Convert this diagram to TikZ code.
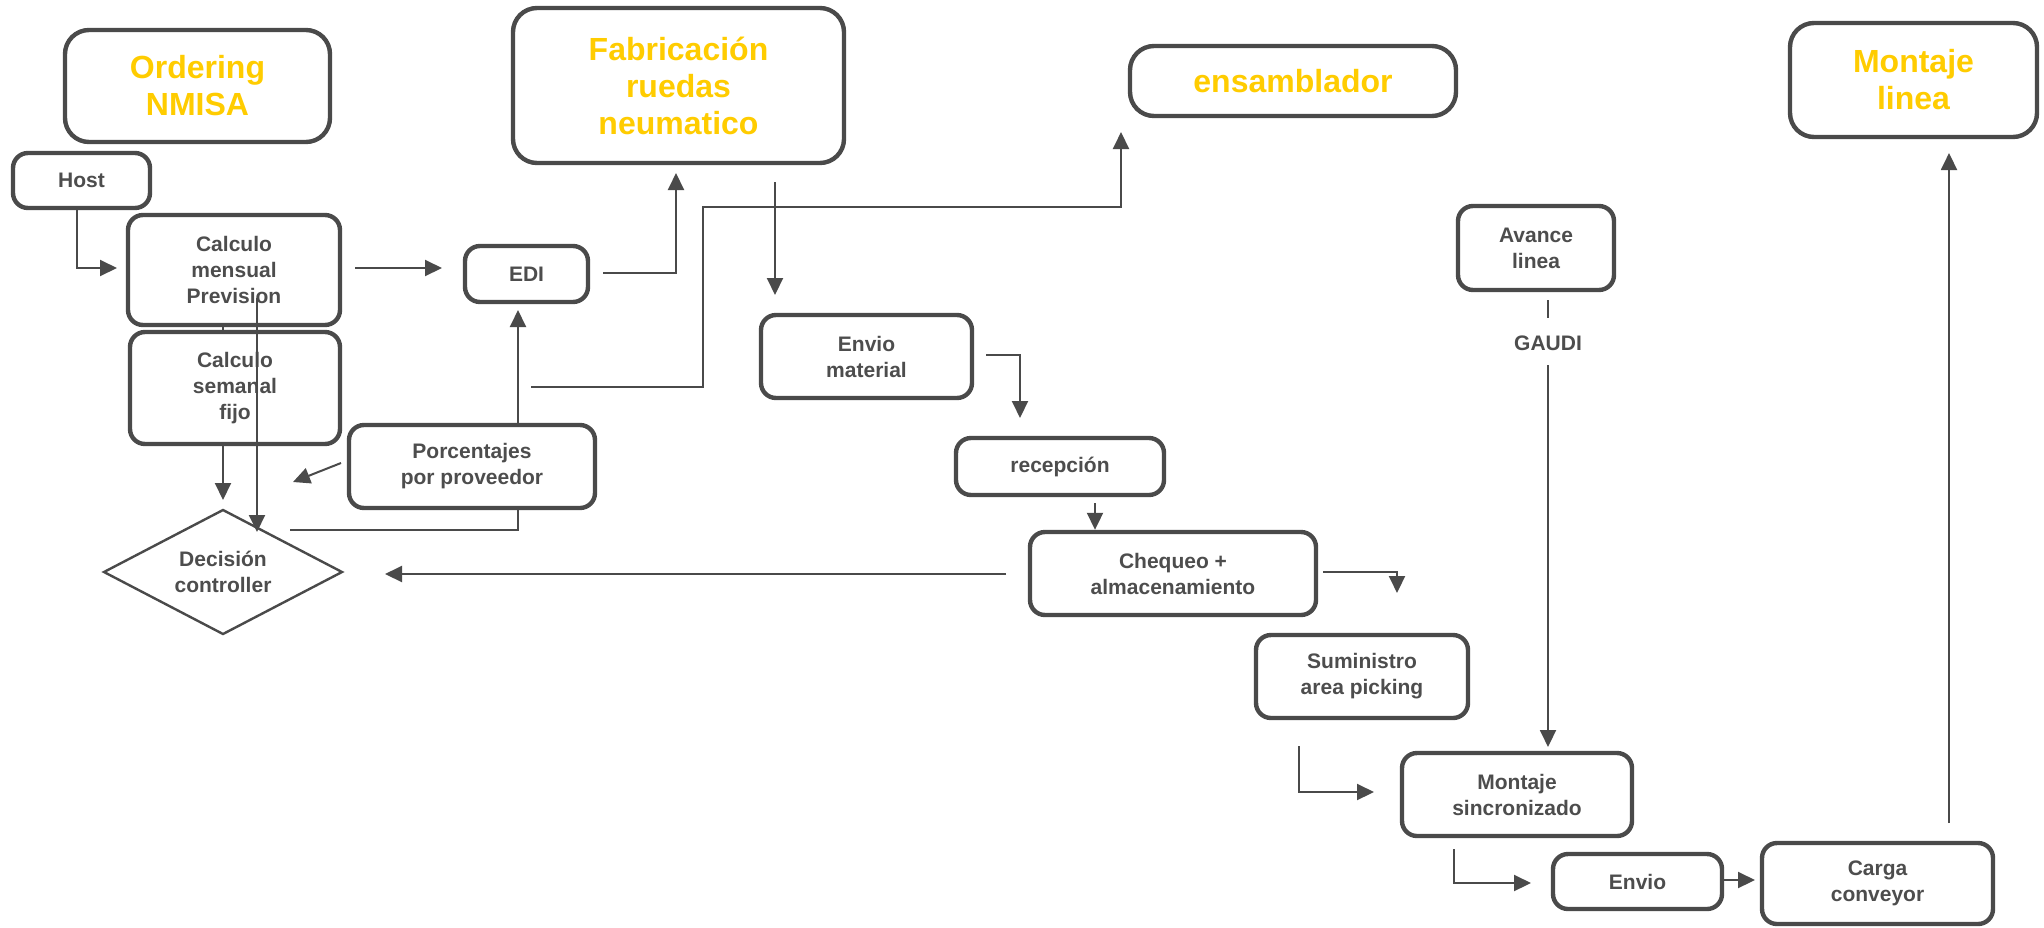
\documentclass[tikz,border=0pt]{standalone}
\usepackage{fontspec}
\setmainfont{Liberation Sans}
\usetikzlibrary{arrows.meta}
\definecolor{ink}{HTML}{4D4D4D}
\definecolor{edge}{HTML}{4A4A4A}
\definecolor{gold}{HTML}{FFCC00}
\tikzset{
  box/.style={draw=edge,line width=2.2pt,rounded corners=7.5pt,align=center,text=ink,
    font=\bfseries\fontsize{10.5}{13}\selectfont,inner sep=0pt},
  titlebox/.style={draw=edge,line width=2.2pt,rounded corners=12pt,align=center,text=gold,
    font=\bfseries\fontsize{16}{18.5}\selectfont,inner sep=0pt},
  lbl/.style={text=ink,font=\bfseries\fontsize{10.5}{13}\selectfont,inner sep=1pt,align=center},
  conn/.style={draw=edge,line width=1pt},
  arr/.style={conn,-{Triangle[length=8.5pt,width=8pt]}},
  sz/.style 2 args={minimum width=#1*0.5pt,minimum height=#2*0.5pt}
}
\begin{document}
\begin{tikzpicture}[x=0.5pt,y=-0.5pt]
\path[use as bounding box,fill=white] (0,0) rectangle (2044,927);

% title boxes
\node[titlebox,sz={265}{112}] (ordering) at (197.5,86) {Ordering\\NMISA};
\node[titlebox,sz={331}{155}] (fab) at (678.5,85.5) {Fabricación\\ruedas\\neumatico};
\node[titlebox,sz={326}{70}] (ens) at (1293,81) {ensamblador};
\node[titlebox,sz={247}{114}] (mlinea) at (1913.5,80) {Montaje\\linea};

% process boxes
\node[box,sz={137}{55}] (host) at (81.5,180.5) {Host};
\node[box,sz={212}{110}] (mensual) at (234,270) {Calculo\\mensual\\Prevision};
\node[box,sz={210}{112}] (semanal) at (235,388) {Calculo\\semanal\\fijo};
\node[box,sz={123}{56}] (edi) at (526.5,274) {EDI};
\node[box,sz={246}{83}] (porc) at (472,466.5) {Porcentajes\\por proveedor};
\node[lbl] (dec) at (223,572) {Decisión\\controller};
\draw[draw=edge,line width=1.2pt,line join=miter]
  (dec.center) ++(-119,0) -- ++(119,-62) -- ++(119,62) -- ++(-119,62) -- cycle;
\node[box,sz={211}{83}] (envmat) at (866.5,356.5) {Envio\\material};
\node[box,sz={208}{57}] (recep) at (1060,466.5) {recepción};
\node[box,sz={286}{83}] (cheq) at (1173,573.5) {Chequeo +\\almacenamiento};
\node[box,sz={212}{83}] (sum) at (1362,676.5) {Suministro\\area picking};
\node[box,sz={156}{84}] (avance) at (1536,248) {Avance\\linea};
\node[lbl] (gaudi) at (1548,343) {GAUDI};
\node[box,sz={230}{83}] (msinc) at (1517,794.5) {Montaje\\sincronizado};
\node[box,sz={169}{55}] (envio) at (1637.5,881.5) {Envio};
\node[box,sz={231}{81}] (carga) at (1877.5,883.5) {Carga\\conveyor};

% free ends of connectors
\coordinate (c1) at (117,268);
\coordinate (c2a) at (355,268);
\coordinate (c2b) at (442,268);
\coordinate (c4a) at (257,298);
\coordinate (c4b) at (257,532);
\coordinate (c5) at (223,500);
\coordinate (c6a) at (341,463);
\coordinate (c6b) at (293,482);
\coordinate (c7) at (290,530);
\coordinate (c8) at (518,310);
\coordinate (c9a) at (603,273);
\coordinate (c9b) at (676,173);
\coordinate (c10a) at (531,387);
\coordinate (c10b) at (1121,132);
\coordinate (c11a) at (775,182);
\coordinate (c11b) at (775,295);
\coordinate (c12a) at (986,355);
\coordinate (c12b) at (1020,418);
\coordinate (c13) at (1095,503);
\coordinate (c14a) at (1006,574);
\coordinate (c14b) at (385,574);
\coordinate (c15a) at (1323,572);
\coordinate (c15b) at (1397,593);
\coordinate (c16a) at (1548,300);
\coordinate (c16b) at (1548,318);
\coordinate (c17a) at (1548,365);
\coordinate (c17b) at (1548,747);
\coordinate (c18a) at (1299,746);
\coordinate (c18b) at (1374,792);
\coordinate (c19a) at (1454,849);
\coordinate (c19b) at (1531,883);
\coordinate (c20) at (1755,880);
\coordinate (c21a) at (1949,823);
\coordinate (c21b) at (1949,153);

% connectors
\draw[arr] (host.south -| 77,0) |- (c1);
\draw[arr] (c2a) -- (c2b);
\draw[conn] (mensual.south -| 223,0) -- (semanal.north -| 223,0);
\draw[arr] (c4a) -- (c4b);
\draw[arr] (semanal.south -| 223,0) -- (c5);
\draw[arr] (c6a) -- (c6b);
\draw[conn] (porc.south -| 518,0) |- (c7);
\draw[arr] (porc.north -| 518,0) -- (c8);
\draw[arr] (c9a) -| (c9b);
\draw[arr] (c10a) -- (703,387) -- (703,207) -| (c10b);
\draw[arr] (c11a) -- (c11b);
\draw[arr] (c12a) -| (c12b);
\draw[arr] (c13) -- (cheq.north -| 1095,0);
\draw[arr] (c14a) -- (c14b);
\draw[arr] (c15a) -| (c15b);
\draw[conn] (c16a) -- (c16b);
\draw[arr] (c17a) -- (c17b);
\draw[arr] (c18a) |- (c18b);
\draw[arr] (c19a) |- (c19b);
\draw[arr] (envio.east |- 0,880) -- (c20);
\draw[arr] (c21a) -- (c21b);
\end{tikzpicture}
\end{document}
